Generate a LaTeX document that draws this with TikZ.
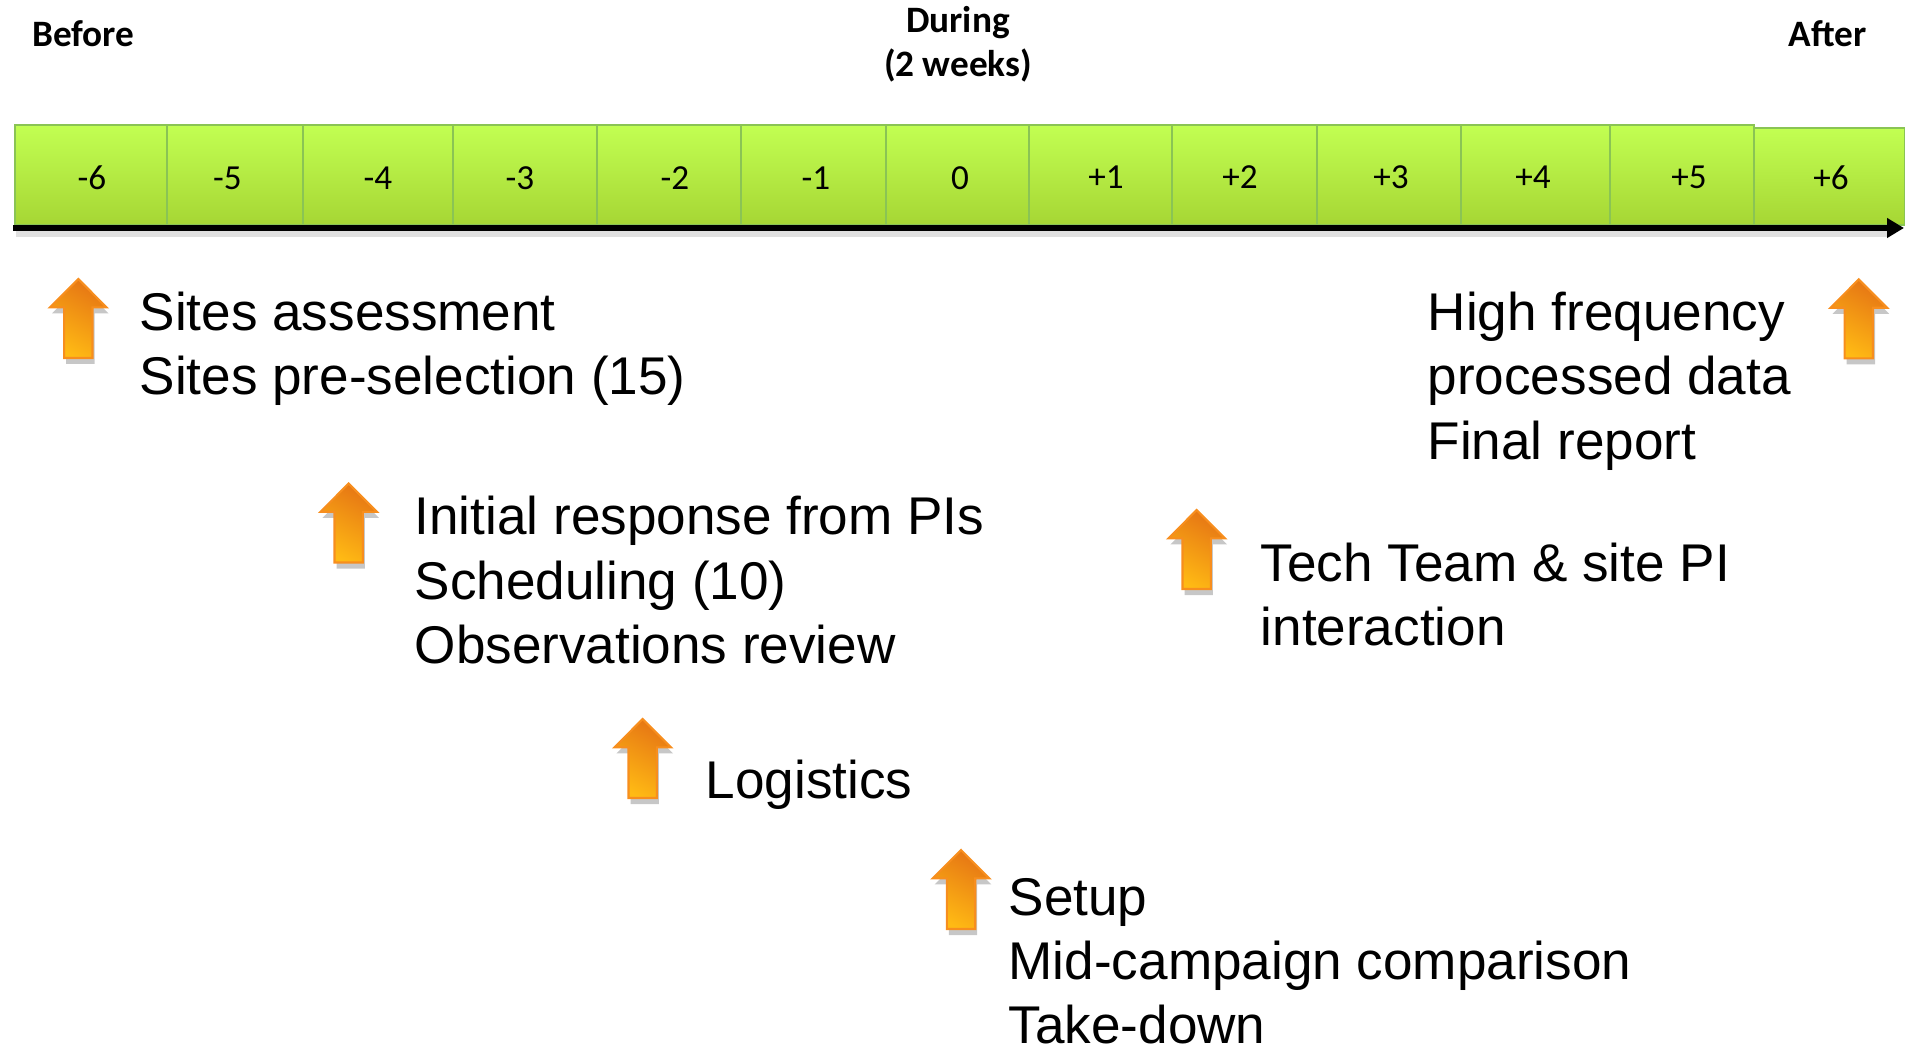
\documentclass[tikz,border=0pt]{standalone}
\usepackage{fontspec}
\setmainfont{Liberation Sans}
\newfontfamily\arialf{Liberation Sans}
\newfontfamily\calibri{Carlito}
\usetikzlibrary{arrows.meta,shadows}
\definecolor{celltop}{RGB}{194,255,82}
\definecolor{cellbot}{RGB}{166,214,52}
\definecolor{cellline}{RGB}{138,196,84}
\definecolor{arrdark}{RGB}{230,118,20}
\definecolor{arrlight}{RGB}{255,186,20}
\definecolor{arrline}{RGB}{247,142,30}
\newcommand\leftlines[1]{\vtop{\halign{##\hfil\cr#1\crcr}}}
\tikzset{
  cellbox/.style={top color=celltop, bottom color=cellbot, draw=cellline, line width=0.6pt},
  numlbl/.style={anchor=base, inner sep=0pt, font=\calibri\fontsize{10}{12}\selectfont},
  headlbl/.style={inner sep=0pt, font=\calibri\bfseries\fontsize{10.6}{12}\selectfont},
  bodytxt/.style={anchor=base west, inner sep=0pt, font=\arialf\fontsize{15.1}{18.2}\selectfont},
  arrowbody/.style={top color=arrdark, bottom color=arrlight, shading angle=-30,
    draw=arrline, line width=0.6pt,
    drop shadow={shadow xshift=0.02cm, shadow yshift=-0.06cm, opacity=0.22, fill=black}},
  uparrow/.pic={\path[arrowbody] (0,0) -- (28.3,28.4) -- (14.2,28.4) -- (14.2,79)
     -- (-14.2,79) -- (-14.2,28.4) -- (-28.3,28.4) -- cycle;}
}
\begin{document}
\begin{tikzpicture}[x=0.01cm, y=-0.01cm]
\useasboundingbox (0,0) rectangle (1905,1046);
% header labels
\node[headlbl, anchor=base west] (before) at (31.5,46.5) {Before};
\node[headlbl, anchor=base] (during) at (958,33) {During};
\node[headlbl, anchor=base] (weeks) at (958,76.5) {(2 weeks)};
\node[headlbl, anchor=base east] (after) at (1867,46.5) {After};
% timeline cells
\foreach \a/\b/\t in {15/167/125, 167/303/125, 303/453/125, 453/597/125, 597/741/125,
  741/886/125, 886/1029/125, 1029/1172/125, 1172/1317/125, 1317/1461/125,
  1461/1610/125, 1610/1754/125, 1754/1905/128}
  \path[cellbox] (\a,\t) rectangle (\b,225);
% axis line with shadow
\draw[line width=2.2pt, black, opacity=0.12] (16,233) -- (1890,233);
\coordinate (axstart) at (13,228);
\coordinate (axend) at (1904,228);
\draw[line width=1.55pt, -{Triangle[length=0.17cm, width=0.19cm]}] (axstart) -- (axend);
% numbers
\node[numlbl] (nm6) at (92,190) {-6};
\node[numlbl] (nm5) at (227.5,190) {-5};
\node[numlbl] (nm4) at (378,190) {-4};
\node[numlbl] (nm3) at (520,190) {-3};
\node[numlbl] (nm2) at (675,190) {-2};
\node[numlbl] (nm1) at (816,190) {-1};
\node[numlbl] (n0) at (960,190) {0};
\node[numlbl] (np1) at (1106,188.5) {+1};
\node[numlbl] (np2) at (1240,188.5) {+2};
\node[numlbl] (np3) at (1391,188.5) {+3};
\node[numlbl] (np4) at (1533,188.5) {+4};
\node[numlbl] (np5) at (1689,188.5) {+5};
\node[numlbl] (np6) at (1831,190) {+6};
% arrows
\pic (a1) at (78.3,279) {uparrow};
\pic (a2) at (348.7,483.5) {uparrow};
\pic (a3) at (642.7,719) {uparrow};
\pic (a4) at (961,850) {uparrow};
\pic (a5) at (1196.7,510) {uparrow};
\pic (a6) at (1858.8,279.4) {uparrow};
% texts
\node[bodytxt] (t1) at (139,331) {\leftlines{Sites assessment\cr Sites pre-selection (15)}};
\node[bodytxt] (t2) at (414,535) {\leftlines{Initial response from PIs\cr Scheduling (10)\cr Observations review}};
\node[bodytxt] (t3) at (705,799) {\leftlines{Logistics}};
\node[bodytxt] (t4) at (1008,915.4) {\leftlines{Setup\cr Mid-campaign comparison\cr Take-down}};
\node[bodytxt] (t5) at (1260,581.3) {\leftlines{Tech Team \& site PI\cr interaction}};
\node[bodytxt] (t6) at (1427,331) {\leftlines{High frequency\cr processed data\cr Final report}};
\end{tikzpicture}
\end{document}
